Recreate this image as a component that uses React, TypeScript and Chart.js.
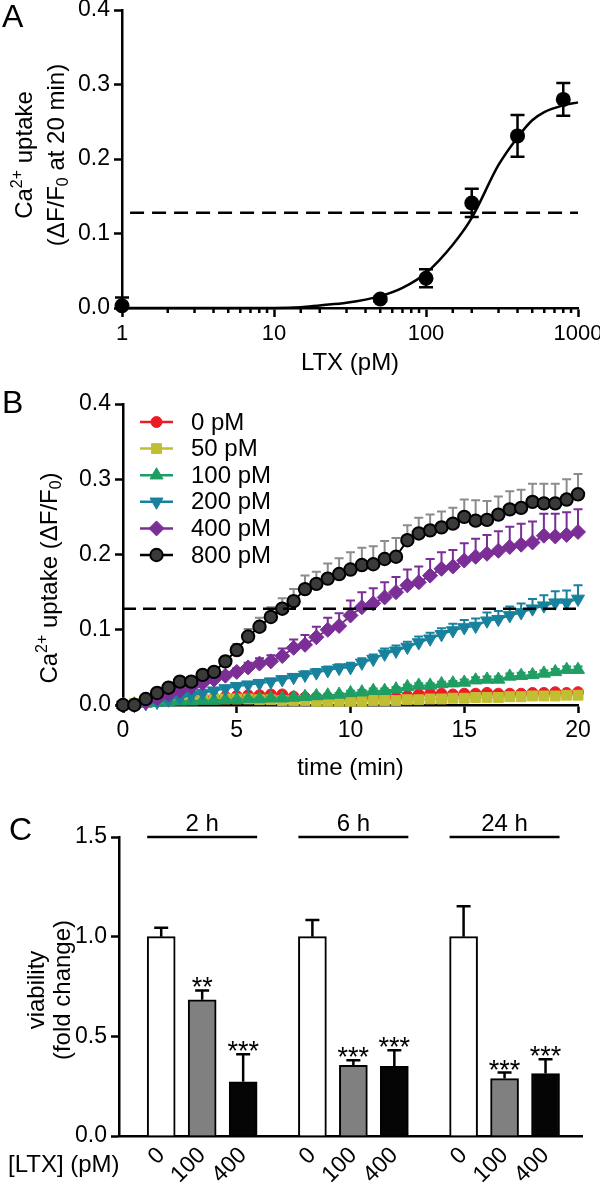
import React, { useEffect, useRef } from 'react';
import { Chart, registerables } from 'chart.js';
import { drawPoint } from 'chart.js/helpers';

Chart.register(...registerables);

const FF = '"Liberation Sans", Arial, Helvetica, sans-serif';

// ---------------- Panel A data ----------------
const ltxDoseA = [1, 50, 100, 200, 400, 800];
const uptake20 = [0.003, 0.012, 0.04, 0.141, 0.231, 0.28];
const uptake20Err = [0.011, 0.003, 0.012, 0.019, 0.028, 0.022];
const fitDose = [1, 10, 15, 20, 30, 50, 70, 100, 150, 200, 300, 400, 500, 600, 800, 1000];
const fitUptake = [0, 0, 0.001, 0.0035, 0.007, 0.016, 0.027, 0.047, 0.085, 0.121, 0.192, 0.229, 0.252, 0.263, 0.272, 0.276];
const logTickLabels = ['1', '10', '100', '1000'];
const thresholdLevel = 0.128;
const thresholdDoseRange = [1.13, 1000];

// ---------------- Panel B data ----------------
const timeMin = [0, 0.5, 1, 1.5, 2, 2.5, 3, 3.5, 4, 4.5, 5, 5.5, 6, 6.5, 7, 7.5, 8, 8.5, 9, 9.5, 10, 10.5, 11, 11.5, 12, 12.5, 13, 13.5, 14, 14.5, 15, 15.5, 16, 16.5, 17, 17.5, 18, 18.5, 19, 19.5, 20];
const concLabels = ['0 pM', '50 pM', '100 pM', '200 pM', '400 pM', '800 pM'];
const uptake0pM = [0, 0.002, 0.004, 0.006, 0.007, 0.008, 0.009, 0.010, 0.010, 0.011, 0.012, 0.013, 0.013, 0.014, 0.014, 0.011, 0.010, 0.010, 0.009, 0.009, 0.009, 0.009, 0.010, 0.010, 0.010, 0.012, 0.014, 0.015, 0.015, 0.014, 0.015, 0.015, 0.016, 0.015, 0.015, 0.015, 0.016, 0.016, 0.017, 0.016, 0.017];
const uptake50pM = [0, 0.002, 0.004, 0.005, 0.006, 0.007, 0.008, 0.008, 0.008, 0.008, 0.008, 0.008, 0.007, 0.007, 0.006, 0.006, 0.006, 0.005, 0.005, 0.005, 0.005, 0.005, 0.006, 0.006, 0.006, 0.007, 0.007, 0.008, 0.008, 0.009, 0.009, 0.010, 0.010, 0.010, 0.011, 0.011, 0.012, 0.012, 0.012, 0.013, 0.013];
const uptake100pM = [0, 0.001, 0.002, 0.003, 0.004, 0.005, 0.005, 0.006, 0.006, 0.007, 0.007, 0.008, 0.008, 0.009, 0.009, 0.010, 0.011, 0.012, 0.013, 0.014, 0.016, 0.017, 0.019, 0.019, 0.021, 0.024, 0.026, 0.026, 0.028, 0.029, 0.030, 0.033, 0.034, 0.034, 0.038, 0.039, 0.040, 0.042, 0.044, 0.047, 0.047];
const uptake200pM = [0, 0, 0.002, 0.004, 0.007, 0.010, 0.013, 0.016, 0.019, 0.022, 0.025, 0.027, 0.029, 0.031, 0.034, 0.037, 0.040, 0.043, 0.046, 0.049, 0.050, 0.056, 0.061, 0.068, 0.072, 0.077, 0.083, 0.088, 0.094, 0.099, 0.103, 0.105, 0.112, 0.114, 0.119, 0.123, 0.128, 0.132, 0.136, 0.136, 0.141];
const uptake400pM = [0, 0, 0.004, 0.009, 0.014, 0.019, 0.024, 0.029, 0.034, 0.039, 0.044, 0.050, 0.055, 0.058, 0.065, 0.076, 0.080, 0.090, 0.100, 0.105, 0.119, 0.130, 0.135, 0.143, 0.150, 0.159, 0.163, 0.172, 0.181, 0.184, 0.192, 0.197, 0.201, 0.205, 0.210, 0.213, 0.216, 0.225, 0.224, 0.226, 0.230];
const uptake800pM = [0, 0, 0.008, 0.016, 0.023, 0.031, 0.031, 0.040, 0.044, 0.058, 0.073, 0.091, 0.104, 0.117, 0.128, 0.138, 0.154, 0.161, 0.168, 0.174, 0.180, 0.186, 0.187, 0.194, 0.197, 0.219, 0.228, 0.232, 0.236, 0.241, 0.250, 0.245, 0.246, 0.253, 0.260, 0.262, 0.270, 0.268, 0.268, 0.273, 0.280];
const err0pM = [0.001, 0.001, 0.001, 0.001, 0.002, 0.002, 0.002, 0.002, 0.002, 0.002, 0.002, 0.002, 0.002, 0.002, 0.002, 0.002, 0.002, 0.002, 0.002, 0.002, 0.002, 0.002, 0.002, 0.002, 0.002, 0.002, 0.002, 0.002, 0.002, 0.002, 0.002, 0.002, 0.002, 0.002, 0.002, 0.002, 0.002, 0.002, 0.002, 0.002, 0.002];
const err50pM = [0.001, 0.001, 0.001, 0.001, 0.001, 0.002, 0.002, 0.002, 0.002, 0.002, 0.002, 0.002, 0.002, 0.002, 0.002, 0.002, 0.002, 0.002, 0.002, 0.002, 0.002, 0.002, 0.002, 0.002, 0.002, 0.002, 0.002, 0.002, 0.002, 0.002, 0.002, 0.002, 0.002, 0.002, 0.002, 0.002, 0.002, 0.002, 0.002, 0.002, 0.002];
const err100pM = [0.001, 0.001, 0.001, 0.001, 0.001, 0.001, 0.001, 0.001, 0.001, 0.001, 0.002, 0.002, 0.002, 0.002, 0.002, 0.002, 0.002, 0.002, 0.002, 0.002, 0.003, 0.003, 0.003, 0.003, 0.003, 0.003, 0.003, 0.003, 0.003, 0.003, 0.004, 0.004, 0.004, 0.004, 0.004, 0.004, 0.004, 0.004, 0.004, 0.004, 0.004];
const err200pM = [0.001, 0.001, 0.001, 0.002, 0.002, 0.002, 0.002, 0.003, 0.003, 0.003, 0.003, 0.003, 0.004, 0.004, 0.004, 0.004, 0.005, 0.005, 0.005, 0.005, 0.006, 0.006, 0.006, 0.007, 0.007, 0.007, 0.008, 0.008, 0.008, 0.009, 0.010, 0.010, 0.011, 0.011, 0.012, 0.012, 0.013, 0.014, 0.015, 0.016, 0.018];
const err400pM = [0.001, 0.001, 0.002, 0.002, 0.003, 0.003, 0.003, 0.004, 0.004, 0.005, 0.005, 0.006, 0.007, 0.008, 0.010, 0.011, 0.013, 0.014, 0.016, 0.017, 0.020, 0.020, 0.020, 0.020, 0.020, 0.021, 0.021, 0.022, 0.022, 0.022, 0.023, 0.024, 0.025, 0.026, 0.027, 0.028, 0.028, 0.029, 0.030, 0.030, 0.030];
const err800pM = [0.002, 0.002, 0.002, 0.003, 0.003, 0.004, 0.004, 0.005, 0.005, 0.006, 0.008, 0.010, 0.012, 0.013, 0.014, 0.016, 0.018, 0.016, 0.020, 0.021, 0.023, 0.023, 0.024, 0.024, 0.025, 0.020, 0.021, 0.021, 0.021, 0.021, 0.023, 0.027, 0.025, 0.024, 0.024, 0.024, 0.024, 0.026, 0.026, 0.027, 0.027];
const seriesB = [uptake0pM, uptake50pM, uptake100pM, uptake200pM, uptake400pM, uptake800pM];
const errorsB = [err0pM, err50pM, err100pM, err200pM, err400pM, err800pM];
const timeTicksB = [0, 5, 10, 15, 20];

// ---------------- Panel C data ----------------
const timeGroups = ['2 h', '6 h', '24 h'];
const ltxDoseC = ['0', '100', '400'];
const viability2h = [1.0, 0.683, 0.272];
const viability6h = [1.0, 0.355, 0.35];
const viability24h = [1.0, 0.288, 0.313];
const viabilityErr2h = [0.045, 0.047, 0.138];
const viabilityErr6h = [0.083, 0.025, 0.08];
const viabilityErr24h = [0.152, 0.03, 0.072];
const signif2h = ['', '**', '***'];
const signif6h = ['', '***', '***'];
const signif24h = ['', '***', '***'];

// ---------------- styles ----------------
const stylesB = [
  { color: '#ED1C24', fill: '#ED1C24', err: '#ED1C24', pointStyle: 'circle', radius: 5.5, rotation: 0, order: 5 },
  { color: '#C2BE33', fill: '#C2BE33', err: '#C2BE33', pointStyle: 'rect', radius: 7, rotation: 0, order: 4 },
  { color: '#1F9E63', fill: '#1F9E63', err: '#1F9E63', pointStyle: 'triangle', radius: 7.5, rotation: 0, order: 3 },
  { color: '#18829D', fill: '#18829D', err: '#18829D', pointStyle: 'triangle', radius: 7.5, rotation: 180, order: 2 },
  { color: '#7A2E96', fill: '#7A2E96', err: '#7A2E96', pointStyle: 'rectRot', radius: 7.5, rotation: 0, order: 1 },
  { color: '#000000', fill: '#3A3A3A', err: '#8C8C8C', pointStyle: 'circle', radius: 6.2, rotation: 0, order: 0 },
];
const barFillsC = ['#FFFFFF', '#808080', '#050505'];
const GROUP_STEP = 3.69;

type Seg = { t: string; s?: 'sup' | 'sub' };

function drawRich(ctx: CanvasRenderingContext2D, segs: Seg[], cx: number, cy: number, size: number, rot: number) {
  const big = `${size}px ${FF}`;
  const small = `${Math.round(size * 0.66)}px ${FF}`;
  let w = 0;
  for (const s of segs) {
    ctx.font = s.s ? small : big;
    w += ctx.measureText(s.t).width;
  }
  ctx.save();
  ctx.translate(cx, cy);
  ctx.rotate(rot);
  ctx.fillStyle = '#000';
  ctx.textBaseline = 'middle';
  ctx.textAlign = 'left';
  let x = -w / 2;
  for (const s of segs) {
    ctx.font = s.s ? small : big;
    const dy = s.s === 'sup' ? -size * 0.3 : s.s === 'sub' ? size * 0.27 : 0;
    ctx.fillText(s.t, x, dy);
    x += ctx.measureText(s.t).width;
  }
  ctx.restore();
}

function drawText(ctx: CanvasRenderingContext2D, text: string, x: number, y: number, size: number, align: CanvasTextAlign = 'center', baseline: CanvasTextBaseline = 'middle') {
  ctx.save();
  ctx.font = `${size}px ${FF}`;
  ctx.fillStyle = '#000';
  ctx.textAlign = align;
  ctx.textBaseline = baseline;
  ctx.fillText(text, x, y);
  ctx.restore();
}

function fitBox(dim: 'width' | 'height', size: number) {
  return (s: any) => {
    s[dim] = size;
    s.paddingTop = 0;
    s.paddingBottom = 0;
    s.paddingLeft = 0;
    s.paddingRight = 0;
  };
}

const axisBorder = { display: true, color: '#000', width: 2.5 };
function tickGrid(len: number, color: any = '#000', draw = true) {
  return { display: draw, drawOnChartArea: false, drawTicks: draw, tickLength: len, tickColor: color, tickWidth: 2.5, color: 'rgba(0,0,0,0)' };
}
const tickFont = { family: FF, size: 23 };

function isPow10(v: any) {
  if (typeof v !== 'number' || v <= 0) return false;
  const lg = Math.log10(v);
  return Math.abs(lg - Math.round(lg)) < 1e-6;
}

function useChart(makeConfig: () => any) {
  const ref = useRef<HTMLCanvasElement>(null);
  useEffect(() => {
    if (!ref.current) return;
    const chart = new Chart(ref.current, makeConfig());
    return () => chart.destroy();
  }, []);
  return ref;
}

const baseOptions = (padding: any) => ({
  responsive: false,
  animation: false,
  events: [],
  layout: { padding },
  plugins: { legend: { display: false }, tooltip: { enabled: false } },
});

// ---------------- Panel A ----------------
function PanelA() {
  const W = 600, H = 380, L = 122, T = 10, R = 578, B = 308;
  const ref = useChart(() => {
    const plugin = {
      id: 'panelA',
      beforeDatasetsDraw(chart: any) {
        const { ctx, scales: { x, y } } = chart;
        ctx.save();
        ctx.strokeStyle = '#000';
        ctx.lineWidth = 2.5;
        ltxDoseA.forEach((d, i) => {
          const px = x.getPixelForValue(d);
          const hi = uptake20[i] + uptake20Err[i];
          const lo = Math.max(0, uptake20[i] - uptake20Err[i]);
          const y1 = y.getPixelForValue(hi);
          const y2 = y.getPixelForValue(lo);
          ctx.beginPath();
          ctx.moveTo(px, y1); ctx.lineTo(px, y2);
          ctx.moveTo(px - 7, y1); ctx.lineTo(px + 7, y1);
          if (uptake20[i] - uptake20Err[i] > 0) { ctx.moveTo(px - 7, y2); ctx.lineTo(px + 7, y2); }
          ctx.stroke();
        });
        ctx.restore();
      },
      afterDraw(chart: any) {
        const { ctx, scales: { x } } = chart;
        ctx.save();
        ctx.strokeStyle = '#000';
        ctx.lineWidth = 2.5;
        x.ticks.forEach((t: any) => {
          if (isPow10(t.value)) return;
          const px = x.getPixelForValue(t.value);
          ctx.beginPath(); ctx.moveTo(px, x.top); ctx.lineTo(px, x.top + 5); ctx.stroke();
        });
        ctx.restore();
        drawText(ctx, 'A', 2, 27, 32, 'left', 'alphabetic');
        drawText(ctx, 'LTX (pM)', (x.left + x.right) / 2, 363, 24);
        drawRich(ctx, [{ t: 'Ca' }, { t: '2+', s: 'sup' }, { t: ' uptake' }], 25, 155, 24, -Math.PI / 2);
        drawRich(ctx, [{ t: '(\u0394F/F' }, { t: '0', s: 'sub' }, { t: ' at 20 min)' }], 57, 155, 24, -Math.PI / 2);
      },
    };
    return {
      type: 'scatter',
      data: {
        datasets: [
          { data: thresholdDoseRange.map((d) => ({ x: d, y: thresholdLevel })), showLine: true, borderColor: '#000', borderWidth: 2.5, borderDash: [14, 8], pointRadius: 0, clip: false },
          { data: fitDose.map((d, i) => ({ x: d, y: fitUptake[i] })), showLine: true, borderColor: '#000', borderWidth: 2.5, pointRadius: 0, cubicInterpolationMode: 'monotone', tension: 0.4, clip: false },
          { data: ltxDoseA.map((d, i) => ({ x: d, y: uptake20[i] })), showLine: false, pointRadius: 7.5, pointBackgroundColor: '#000', pointBorderColor: '#000', pointBorderWidth: 0, clip: false },
        ],
      },
      options: {
        ...baseOptions({ left: 0, top: T, right: W - R, bottom: 0 }),
        scales: {
          x: {
            type: 'logarithmic', min: 1, max: 1000,
            border: axisBorder,
            grid: tickGrid(9, (c: any) => (c.tick && isPow10(c.tick.value) ? '#000' : 'rgba(0,0,0,0)')),
            ticks: {
              autoSkip: false, maxRotation: 0, minRotation: 0, padding: 4, color: '#000', font: { family: FF, size: 22 },
              callback: (v: any) => {
                const s = String(Math.round(Number(v)));
                return isPow10(Number(v)) && logTickLabels.includes(s) ? s : '';
              },
            },
            afterFit: fitBox('height', H - B),
          },
          y: {
            type: 'linear', min: 0, max: 0.4,
            border: axisBorder,
            grid: tickGrid(8),
            ticks: { stepSize: 0.1, padding: 4, color: '#000', font: tickFont, callback: (v: any) => Number(v).toFixed(1) },
            afterFit: fitBox('width', L),
          },
        },
      },
      plugins: [plugin],
    };
  });
  return <canvas ref={ref} width={W} height={H} style={{ position: 'absolute', left: 0, top: 0, width: W, height: H }} />;
}

// ---------------- Panel B ----------------
function PanelB() {
  const W = 600, H = 410, L = 123, T = 24, R = 578, B = 325;
  const ref = useChart(() => {
    const plugin = {
      id: 'panelB',
      beforeDatasetDraw(chart: any, args: any) {
        const k = args.index - 1;
        if (k < 0) return;
        const { ctx, scales: { x, y } } = chart;
        const st = stylesB[k];
        ctx.save();
        ctx.strokeStyle = st.err;
        ctx.lineWidth = 2;
        timeMin.forEach((t, i) => {
          const px = x.getPixelForValue(t);
          const y0 = y.getPixelForValue(seriesB[k][i]);
          const y1 = y.getPixelForValue(seriesB[k][i] + errorsB[k][i]);
          ctx.beginPath();
          ctx.moveTo(px, y0); ctx.lineTo(px, y1);
          ctx.moveTo(px - 4.5, y1); ctx.lineTo(px + 4.5, y1);
          ctx.stroke();
        });
        ctx.restore();
      },
      afterDraw(chart: any) {
        const { ctx, scales: { x } } = chart;
        concLabels.forEach((lab, i) => {
          const st = stylesB[i];
          const yy = 42 + i * 26.6;
          ctx.save();
          ctx.strokeStyle = st.color;
          ctx.lineWidth = 2.5;
          ctx.beginPath(); ctx.moveTo(140, yy); ctx.lineTo(173, yy); ctx.stroke();
          ctx.fillStyle = st.fill;
          ctx.strokeStyle = st.color;
          ctx.lineWidth = i === 5 ? 2 : 1;
          drawPoint(ctx, { pointStyle: st.pointStyle, rotation: st.rotation, radius: st.radius, borderWidth: ctx.lineWidth } as any, 156.5, yy);
          ctx.restore();
          drawText(ctx, lab, 191, yy + 1, 24, 'left', 'middle');
        });
        drawText(ctx, 'B', 2, 33, 32, 'left', 'alphabetic');
        drawText(ctx, 'time (min)', (x.left + x.right) / 2, 388, 24);
        drawRich(ctx, [{ t: 'Ca' }, { t: '2+', s: 'sup' }, { t: ' uptake (\u0394F/F' }, { t: '0', s: 'sub' }, { t: ')' }], 50, 198, 24, -Math.PI / 2);
      },
    };
    const datasets: any[] = [
      { data: [0, 20].map((t) => ({ x: t, y: thresholdLevel })), showLine: true, borderColor: '#000', borderWidth: 2.5, borderDash: [13, 7], pointRadius: 0, clip: false, order: -1 },
    ];
    seriesB.forEach((vals, k) => {
      const st = stylesB[k];
      datasets.push({
        data: timeMin.map((t, i) => ({ x: t, y: vals[i] })),
        showLine: true,
        borderColor: st.color,
        borderWidth: 2,
        pointStyle: st.pointStyle,
        pointRotation: st.rotation,
        pointRadius: st.radius,
        pointBackgroundColor: st.fill,
        pointBorderColor: st.color,
        pointBorderWidth: k === 5 ? 2 : 1,
        tension: 0,
        clip: false,
        order: st.order,
      });
    });
    return {
      type: 'scatter',
      data: { datasets },
      options: {
        ...baseOptions({ left: 0, top: T, right: W - R, bottom: 0 }),
        scales: {
          x: {
            type: 'linear', min: 0, max: 20,
            border: axisBorder,
            grid: tickGrid(8),
            afterBuildTicks: (s: any) => { s.ticks = timeTicksB.map((v) => ({ value: v })); },
            ticks: { padding: 4, color: '#000', font: tickFont, autoSkip: false, maxRotation: 0 },
            afterFit: fitBox('height', H - B),
          },
          y: {
            type: 'linear', min: 0, max: 0.4,
            border: axisBorder,
            grid: tickGrid(8),
            ticks: { stepSize: 0.1, padding: 4, color: '#000', font: tickFont, callback: (v: any) => Number(v).toFixed(1) },
            afterFit: fitBox('width', L),
          },
        },
      },
      plugins: [plugin],
    };
  });
  return <canvas ref={ref} width={W} height={H} style={{ position: 'absolute', left: 0, top: 380, width: W, height: H }} />;
}

// ---------------- Panel C ----------------
function PanelC() {
  const W = 600, H = 416, L = 119, T = 62, R = 582, B = 361;
  const means = [viability2h, viability6h, viability24h];
  const errs = [viabilityErr2h, viabilityErr6h, viabilityErr24h];
  const sigs = [signif2h, signif6h, signif24h];
  const xs: number[] = [];
  const ys: number[] = [];
  const fills: string[] = [];
  means.forEach((g, gi) => g.forEach((v, i) => { xs.push(gi * GROUP_STEP + i); ys.push(v); fills.push(barFillsC[i]); }));
  const ref = useChart(() => {
    const plugin = {
      id: 'panelC',
      afterDatasetsDraw(chart: any) {
        const { ctx, scales: { x, y } } = chart;
        ctx.save();
        ctx.strokeStyle = '#000';
        ctx.lineWidth = 2.5;
        means.forEach((g, gi) => g.forEach((v, i) => {
          const px = x.getPixelForValue(gi * GROUP_STEP + i);
          const y0 = y.getPixelForValue(v);
          const y1 = y.getPixelForValue(v + errs[gi][i]);
          ctx.beginPath();
          ctx.moveTo(px, y0); ctx.lineTo(px, y1);
          ctx.moveTo(px - 7, y1); ctx.lineTo(px + 7, y1);
          ctx.stroke();
          if (sigs[gi][i]) drawText(ctx, sigs[gi][i], px, y1 + 6, 27, 'center', 'alphabetic');
        }));
        const ly = y.getPixelForValue(1.5);
        timeGroups.forEach((name, gi) => {
          const x1 = x.getPixelForValue(gi * GROUP_STEP) - 14;
          const x2 = x.getPixelForValue(gi * GROUP_STEP + 2) + 14;
          ctx.beginPath(); ctx.moveTo(x1, ly); ctx.lineTo(x2, ly); ctx.stroke();
          drawText(ctx, name, (x1 + x2) / 2, ly - 6, 24, 'center', 'alphabetic');
        });
        ctx.restore();
      },
      afterDraw(chart: any) {
        const { ctx } = chart;
        drawText(ctx, 'C', 9, 65, 32, 'left', 'alphabetic');
        drawRich(ctx, [{ t: 'viability' }], 37, 215, 24, -Math.PI / 2);
        drawRich(ctx, [{ t: '(fold change)' }], 63, 215, 24, -Math.PI / 2);
        drawText(ctx, '[LTX] (pM)', 8, 390, 24, 'left', 'middle');
      },
    };
    return {
      type: 'bar',
      data: {
        datasets: [{
          data: xs.map((xv, i) => ({ x: xv, y: ys[i] })),
          backgroundColor: fills,
          borderColor: '#000',
          borderWidth: 2,
          barThickness: 28,
        }],
      },
      options: {
        ...baseOptions({ left: 0, top: T, right: W - R, bottom: 0 }),
        scales: {
          x: {
            type: 'linear', min: -1.03, max: 10.27, offset: false,
            border: axisBorder,
            grid: { display: false, drawTicks: false, offset: false },
            afterBuildTicks: (s: any) => { s.ticks = xs.map((v) => ({ value: v })); },
            ticks: { autoSkip: false, minRotation: 45, maxRotation: 45, padding: 6, color: '#000', font: tickFont, callback: (_v: any, i: number) => ltxDoseC[i % 3] },
            afterFit: fitBox('height', H - B),
          },
          y: {
            type: 'linear', min: 0, max: 1.5,
            border: axisBorder,
            grid: tickGrid(8),
            ticks: { stepSize: 0.5, padding: 4, color: '#000', font: tickFont, callback: (v: any) => Number(v).toFixed(1) },
            afterFit: fitBox('width', L),
          },
        },
      },
      plugins: [plugin],
    };
  });
  return <canvas ref={ref} width={W} height={H} style={{ position: 'absolute', left: 0, top: 775, width: W, height: H }} />;
}

export default function App() {
  return (
    <div style={{ position: 'absolute', left: 0, top: 0, width: 600, height: 1191, background: '#fff', overflow: 'hidden' }}>
      <PanelA />
      <PanelB />
      <PanelC />
    </div>
  );
}
